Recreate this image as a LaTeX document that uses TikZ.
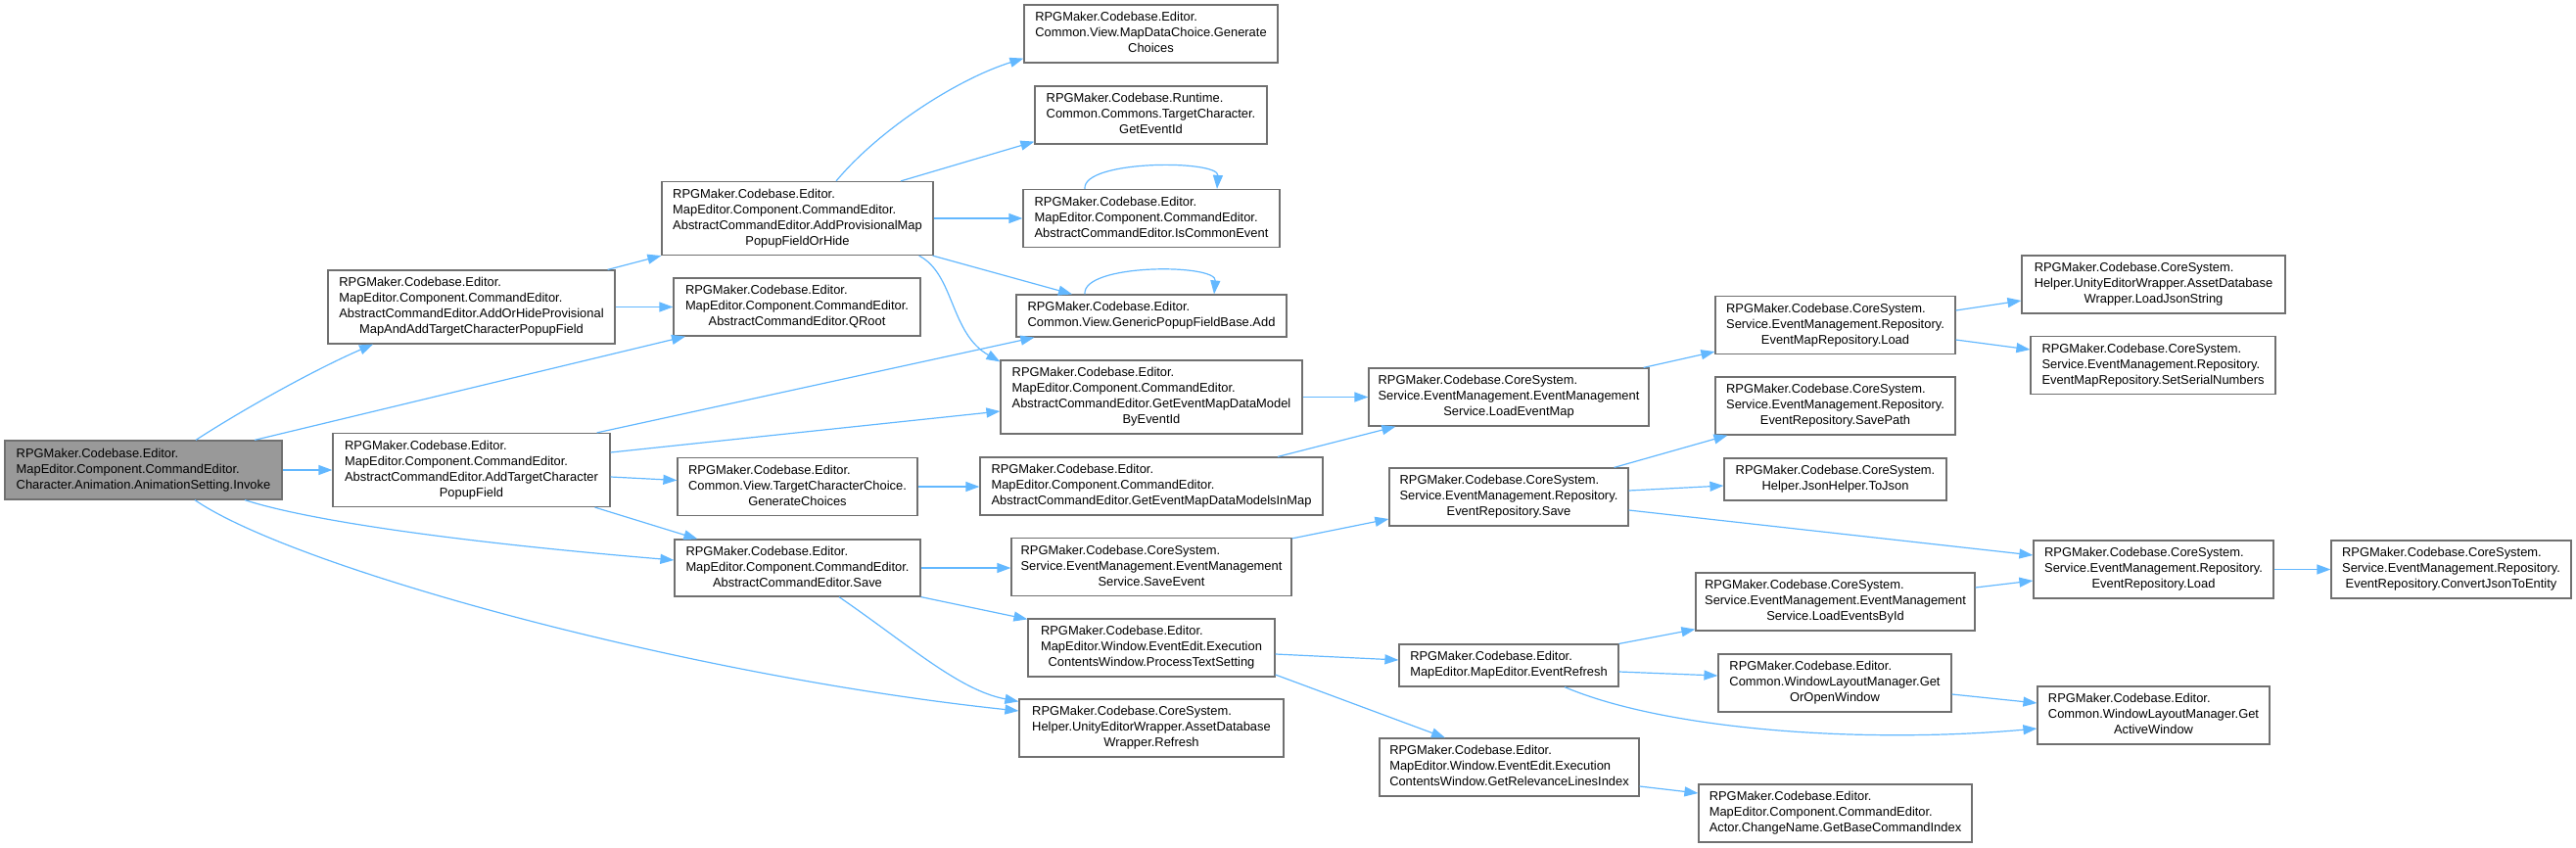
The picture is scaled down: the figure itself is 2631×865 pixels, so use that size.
\documentclass[tikz,border=0pt]{standalone}
\usepackage{fontspec}
\setmainfont{Liberation Sans}
\usetikzlibrary{arrows.meta}
\definecolor{edgeblue}{HTML}{63B8FF}
\definecolor{boxline}{HTML}{707070}
\definecolor{rootfill}{HTML}{999999}
\newcommand\nlab[2]{\begin{tabular}{@{}l@{}}#1\multicolumn{1}{@{}c@{}}{#2}\end{tabular}}
\tikzset{
  box/.style={rectangle, draw=boxline, fill=white, line width=1.2pt, inner sep=0pt,
    font=\fontsize{12.9}{16}\selectfont},
  rootbox/.style={box, fill=rootfill},
  edge/.style={draw=edgeblue, line width=1.2pt, -{Triangle[length=14pt,width=10pt]}},
}
\begin{document}
\begin{tikzpicture}[x=1pt,y=-1pt]
\useasboundingbox (0,0) rectangle (2631,865);
% column 0
\node[rootbox, minimum width=283pt, minimum height=60pt] (invoke) at (146.5,480) {\nlab{RPGMaker.Codebase.Editor.\\MapEditor.Component.CommandEditor.\\}{Character.Animation.AnimationSetting.Invoke}};
% column 1
\node[box, minimum width=293pt, minimum height=75pt] (n1) at (481.5,313.5) {\nlab{RPGMaker.Codebase.Editor.\\MapEditor.Component.CommandEditor.\\AbstractCommandEditor.AddOrHideProvisional\\}{MapAndAddTargetCharacterPopupField}};
\node[box, minimum width=283pt, minimum height=75pt] (n2) at (481.5,480) {\nlab{RPGMaker.Codebase.Editor.\\MapEditor.Component.CommandEditor.\\AbstractCommandEditor.AddTargetCharacter\\}{PopupField}};
% column 2
\node[box, minimum width=277pt, minimum height=75pt] (n3) at (814.5,223) {\nlab{RPGMaker.Codebase.Editor.\\MapEditor.Component.CommandEditor.\\AbstractCommandEditor.AddProvisionalMap\\}{PopupFieldOrHide}};
\node[box, minimum width=252pt, minimum height=59pt] (qroot) at (814,313.5) {\nlab{RPGMaker.Codebase.Editor.\\MapEditor.Component.CommandEditor.\\}{AbstractCommandEditor.QRoot}};
\node[box, minimum width=245pt, minimum height=59pt] (tcchoice) at (814.5,497) {\nlab{RPGMaker.Codebase.Editor.\\Common.View.TargetCharacterChoice.\\}{GenerateChoices}};
\node[box, minimum width=251pt, minimum height=58pt] (save) at (814.5,580) {\nlab{RPGMaker.Codebase.Editor.\\MapEditor.Component.CommandEditor.\\}{AbstractCommandEditor.Save}};
% column 3
\node[box, minimum width=259pt, minimum height=59pt] (mapdata) at (1175.5,34.5) {\nlab{RPGMaker.Codebase.Editor.\\Common.View.MapDataChoice.Generate\\}{Choices}};
\node[box, minimum width=237pt, minimum height=59pt] (geteventid) at (1175.5,117.5) {\nlab{RPGMaker.Codebase.Runtime.\\Common.Commons.TargetCharacter.\\}{GetEventId}};
\node[box, minimum width=262pt, minimum height=59pt] (iscommon) at (1176,223) {\nlab{RPGMaker.Codebase.Editor.\\MapEditor.Component.CommandEditor.\\}{AbstractCommandEditor.IsCommonEvent}};
\node[box, minimum width=276pt, minimum height=43pt] (popadd) at (1176,322.5) {\nlab{RPGMaker.Codebase.Editor.\\}{Common.View.GenericPopupFieldBase.Add}};
\node[box, minimum width=308pt, minimum height=75pt] (bydid) at (1176,405.5) {\nlab{RPGMaker.Codebase.Editor.\\MapEditor.Component.CommandEditor.\\AbstractCommandEditor.GetEventMapDataModel\\}{ByEventId}};
\node[box, minimum width=350pt, minimum height=59pt] (inmap) at (1176,496.5) {\nlab{RPGMaker.Codebase.Editor.\\MapEditor.Component.CommandEditor.\\}{AbstractCommandEditor.GetEventMapDataModelsInMap}};
\node[box, minimum width=286pt, minimum height=59pt] (saveevent) at (1176,579) {\nlab{RPGMaker.Codebase.CoreSystem.\\Service.EventManagement.EventManagement\\}{Service.SaveEvent}};
\node[box, minimum width=252pt, minimum height=59pt] (process) at (1176,661.5) {\nlab{RPGMaker.Codebase.Editor.\\MapEditor.Window.EventEdit.Execution\\}{ContentsWindow.ProcessTextSetting}};
\node[box, minimum width=270pt, minimum height=59pt] (refresh) at (1176,743.5) {\nlab{RPGMaker.Codebase.CoreSystem.\\Helper.UnityEditorWrapper.AssetDatabase\\}{Wrapper.Refresh}};
% column 4
\node[box, minimum width=286pt, minimum height=59pt] (loadeventmap) at (1541,405.5) {\nlab{RPGMaker.Codebase.CoreSystem.\\Service.EventManagement.EventManagement\\}{Service.LoadEventMap}};
\node[box, minimum width=244pt, minimum height=59pt] (ersave) at (1541,507.5) {\nlab{RPGMaker.Codebase.CoreSystem.\\Service.EventManagement.Repository.\\}{EventRepository.Save}};
\node[box, minimum width=224pt, minimum height=43pt] (eventrefresh) at (1541,679.5) {\nlab{RPGMaker.Codebase.Editor.\\}{MapEditor.MapEditor.EventRefresh}};
\node[box, minimum width=265pt, minimum height=59pt] (relevance) at (1541.5,783.5) {\nlab{RPGMaker.Codebase.Editor.\\MapEditor.Window.EventEdit.Execution\\}{ContentsWindow.GetRelevanceLinesIndex}};
% column 5
\node[box, minimum width=245pt, minimum height=59pt] (emrload) at (1874.5,332) {\nlab{RPGMaker.Codebase.CoreSystem.\\Service.EventManagement.Repository.\\}{EventMapRepository.Load}};
\node[box, minimum width=245pt, minimum height=59pt] (savepath) at (1874.5,414.5) {\nlab{RPGMaker.Codebase.CoreSystem.\\Service.EventManagement.Repository.\\}{EventRepository.SavePath}};
\node[box, minimum width=227pt, minimum height=43pt] (tojson) at (1874.5,489.5) {\nlab{RPGMaker.Codebase.CoreSystem.\\}{Helper.JsonHelper.ToJson}};
\node[box, minimum width=285pt, minimum height=59pt] (loadbyid) at (1874.5,614.5) {\nlab{RPGMaker.Codebase.CoreSystem.\\Service.EventManagement.EventManagement\\}{Service.LoadEventsById}};
\node[box, minimum width=238pt, minimum height=59pt] (getoropen) at (1874,697.5) {\nlab{RPGMaker.Codebase.Editor.\\Common.WindowLayoutManager.Get\\}{OrOpenWindow}};
\node[box, minimum width=279pt, minimum height=59pt] (basecmd) at (1874.5,830.5) {\nlab{RPGMaker.Codebase.Editor.\\MapEditor.Component.CommandEditor.\\}{Actor.ChangeName.GetBaseCommandIndex}};
% column 6
\node[box, minimum width=269pt, minimum height=59pt] (loadjson) at (2199.5,290.5) {\nlab{RPGMaker.Codebase.CoreSystem.\\Helper.UnityEditorWrapper.AssetDatabase\\}{Wrapper.LoadJsonString}};
\node[box, minimum width=250pt, minimum height=59pt] (serial) at (2199,373) {\nlab{RPGMaker.Codebase.CoreSystem.\\Service.EventManagement.Repository.\\}{EventMapRepository.SetSerialNumbers}};
\node[box, minimum width=245pt, minimum height=59pt] (erload) at (2199.5,581.5) {\nlab{RPGMaker.Codebase.CoreSystem.\\Service.EventManagement.Repository.\\}{EventRepository.Load}};
\node[box, minimum width=237pt, minimum height=59pt] (activewin) at (2199.5,730.5) {\nlab{RPGMaker.Codebase.Editor.\\Common.WindowLayoutManager.Get\\}{ActiveWindow}};
% column 7
\node[box, minimum width=245pt, minimum height=59pt] (convert) at (2503.5,581.5) {\nlab{RPGMaker.Codebase.CoreSystem.\\Service.EventManagement.Repository.\\}{EventRepository.ConvertJsonToEntity}};

% edges from invoke
\draw[edge] ([xshift=53.5pt]invoke.north) .. controls (245,420) and (320,378) .. ([xshift=-100.5pt]n1.south);
\draw[edge] ([xshift=113.5pt]invoke.north) -- ([xshift=-114pt]qroot.south);
\draw[edge] (invoke.east) -- (n2.west);
\draw[edge] ([xshift=103.5pt]invoke.south) .. controls (310,530) and (450,552) .. ([yshift=8pt]save.west);
\draw[edge] ([xshift=52.5pt]invoke.south) .. controls (300,580) and (700,690) .. ([yshift=17.5pt]refresh.west);
% n1
\draw[edge] ([xshift=-8pt]n1.north east) -- (n3.south west);
\draw[edge] (n1.east) -- (qroot.west);
% n3
\draw[edge] ([xshift=39.5pt]n3.north) .. controls (900,130) and (980,80) .. ([yshift=5pt]mapdata.south west);
\draw[edge] ([xshift=105.5pt]n3.north) -- ([yshift=3pt]geteventid.south west);
\draw[edge] (n3.east) -- (iscommon.west);
\draw[edge] ([xshift=-1pt]n3.south east) -- ([xshift=-81pt]popadd.north);
\draw[edge] ([xshift=-15pt]n3.south east) .. controls (975,280) and (970,340) .. ([yshift=-2pt]bydid.north west);
% self loops
\draw[edge] ([xshift=-68pt]iscommon.north) .. controls (1105,163) and (1245,163) .. ([xshift=67pt]iscommon.north);
\draw[edge] ([xshift=-68pt]popadd.north) .. controls (1105,269) and (1243,269) .. ([xshift=64pt]popadd.north);
% n2
\draw[edge] ([xshift=-14pt]n2.north east) -- ([xshift=19pt]popadd.south west);
\draw[edge] ([yshift=18pt]n2.east) -- ([yshift=-14.5pt]bydid.west);
\draw[edge] ([yshift=-7pt]n2.east) -- ([yshift=6.5pt]tcchoice.west);
\draw[edge] ([xshift=-16pt]n2.south east) -- ([xshift=24pt]save.north west);
% column 2 onwards
\draw[edge] (tcchoice.east) -- (tcchoice.east -| inmap.west);
\draw[edge] (save.east) -- (save.east -| saveevent.west);
\draw[edge] (save.south east) -- ([yshift=-1pt]process.north west);
\draw[edge] ([xshift=42.5pt]save.south) .. controls (930,660) and (980,705) .. ([yshift=-3pt]refresh.north west);
\draw[edge] (bydid.east) -- (loadeventmap.west);
\draw[edge] ([xshift=129pt]inmap.north) -- ([xshift=28pt]loadeventmap.south west);
\draw[edge] ([xshift=-6pt]loadeventmap.north east) -- ([yshift=3pt]emrload.south west);
\draw[edge] ([yshift=15pt]emrload.east) -- ([yshift=-16.5pt]loadjson.west);
\draw[edge] ([yshift=-15pt]emrload.east) -- ([yshift=16pt]serial.west);
\draw[edge] ([yshift=-1pt]saveevent.north east) -- ([yshift=-22.5pt]ersave.west);
\draw[edge] ([xshift=-15pt]ersave.north east) -- ([xshift=13pt]savepath.south west);
\draw[edge] ([yshift=6.5pt]ersave.east) -- ([yshift=-6.5pt]tojson.west);
\draw[edge] ([yshift=-13.5pt]ersave.east) -- ([yshift=14.5pt]erload.west);
\draw[edge] ([yshift=-6.5pt]process.east) -- ([yshift=5.5pt]eventrefresh.west);
\draw[edge] ([yshift=-27.5pt]process.east) -- ([xshift=-65.5pt]relevance.north);
\draw[edge] (eventrefresh.north east) -- ([yshift=2pt]loadbyid.south west);
\draw[edge] ([yshift=-6.5pt]eventrefresh.east) -- ([yshift=7.5pt]getoropen.west);
\draw[edge] ([xshift=57pt]eventrefresh.south) .. controls (1700,745) and (1900,760) .. ([yshift=-13.5pt]activewin.west);
\draw[edge] ([yshift=14.5pt]loadbyid.east) -- ([yshift=-11.5pt]erload.west);
\draw[edge] ([yshift=-11.5pt]getoropen.east) -- ([yshift=12.5pt]activewin.west);
\draw[edge] (erload.east) -- (convert.west);
\draw[edge] ([yshift=-19.5pt]relevance.east) -- ([yshift=20.5pt]basecmd.west);
\end{tikzpicture}
\end{document}
